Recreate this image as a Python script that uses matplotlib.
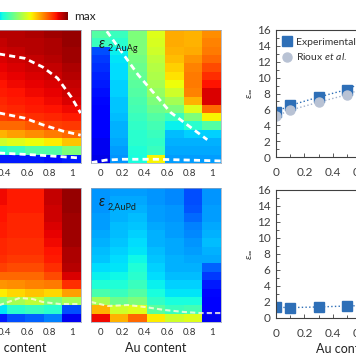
import numpy as np
import matplotlib
matplotlib.use("Agg")
import matplotlib.pyplot as plt
from matplotlib.ticker import MultipleLocator

plt.rcParams['font.family'] = ['Lato', 'DejaVu Sans']
plt.rcParams['mathtext.fontset'] = 'custom'
plt.rcParams['mathtext.rm'] = 'Lato'
plt.rcParams['mathtext.it'] = 'Lato:italic'
plt.rcParams['mathtext.fallback'] = 'stixsans'

# ---- data ----
au_ticks = [0, 0.2, 0.4, 0.6, 0.8, 1]
n_cols = 7
n_rows = 16

# heatmap columns, colour level 0..1 (jet), rows listed top -> bottom
eps1_auag = [
    [0.95, 0.94, 0.93, 0.92, 0.91, 0.90, 0.89, 0.88, 0.87, 0.86, 0.84, 0.80, 0.72, 0.60, 0.40, 0.15],
    [0.95, 0.94, 0.93, 0.92, 0.91, 0.90, 0.89, 0.88, 0.87, 0.86, 0.84, 0.80, 0.72, 0.60, 0.40, 0.15],
    [0.95, 0.94, 0.93, 0.92, 0.91, 0.90, 0.89, 0.88, 0.87, 0.86, 0.84, 0.80, 0.72, 0.60, 0.40, 0.15],
    [0.95, 0.95, 0.94, 0.93, 0.92, 0.91, 0.90, 0.89, 0.88, 0.87, 0.85, 0.80, 0.74, 0.62, 0.42, 0.15],
    [0.96, 0.95, 0.95, 0.94, 0.93, 0.92, 0.91, 0.90, 0.89, 0.88, 0.86, 0.82, 0.76, 0.64, 0.45, 0.15],
    [0.97, 0.96, 0.96, 0.95, 0.94, 0.93, 0.92, 0.91, 0.90, 0.89, 0.87, 0.84, 0.78, 0.66, 0.45, 0.14],
    [0.98, 0.98, 0.97, 0.97, 0.96, 0.95, 0.94, 0.93, 0.92, 0.90, 0.88, 0.85, 0.80, 0.70, 0.50, 0.15],
]
eps2_auag = [
    [0.45, 0.42, 0.20, 0.18, 0.17, 0.16, 0.15, 0.14, 0.13, 0.12, 0.12, 0.11, 0.11, 0.10, 0.10, 0.09],
    [0.42, 0.40, 0.36, 0.35, 0.34, 0.34, 0.33, 0.33, 0.32, 0.32, 0.31, 0.30, 0.30, 0.29, 0.28, 0.27],
    [0.50, 0.50, 0.50, 0.49, 0.48, 0.47, 0.46, 0.45, 0.44, 0.43, 0.42, 0.41, 0.40, 0.40, 0.39, 0.38],
    [0.62, 0.61, 0.60, 0.58, 0.57, 0.56, 0.55, 0.53, 0.50, 0.48, 0.45, 0.43, 0.42, 0.41, 0.42, 0.65],
    [0.73, 0.73, 0.72, 0.71, 0.69, 0.67, 0.64, 0.60, 0.55, 0.50, 0.42, 0.36, 0.31, 0.30, 0.29, 0.28],
    [0.72, 0.72, 0.73, 0.75, 0.77, 0.78, 0.78, 0.77, 0.72, 0.62, 0.50, 0.40, 0.33, 0.30, 0.29, 0.28],
    [0.76, 0.77, 0.78, 0.80, 0.83, 0.86, 0.89, 0.92, 0.92, 0.80, 0.65, 0.45, 0.33, 0.30, 0.29, 0.28],
]
eps1_aupd = [
    [0.90, 0.90, 0.89, 0.89, 0.88, 0.88, 0.87, 0.87, 0.86, 0.84, 0.80, 0.75, 0.66, 0.50, 0.35, 0.15],
    [0.90, 0.90, 0.89, 0.89, 0.88, 0.88, 0.87, 0.87, 0.86, 0.84, 0.80, 0.75, 0.66, 0.50, 0.35, 0.15],
    [0.90, 0.90, 0.89, 0.89, 0.88, 0.88, 0.87, 0.87, 0.86, 0.84, 0.80, 0.75, 0.66, 0.50, 0.35, 0.15],
    [0.88, 0.88, 0.88, 0.87, 0.87, 0.87, 0.86, 0.86, 0.85, 0.83, 0.80, 0.76, 0.68, 0.55, 0.40, 0.20],
    [0.88, 0.88, 0.88, 0.87, 0.87, 0.87, 0.86, 0.86, 0.85, 0.83, 0.80, 0.77, 0.70, 0.58, 0.42, 0.22],
    [0.94, 0.94, 0.93, 0.93, 0.92, 0.91, 0.90, 0.89, 0.88, 0.86, 0.83, 0.78, 0.68, 0.50, 0.40, 0.25],
    [0.98, 0.98, 0.98, 0.97, 0.97, 0.97, 0.97, 0.96, 0.96, 0.95, 0.92, 0.86, 0.74, 0.55, 0.20, 0.10],
]
eps2_aupd = [
    [0.27, 0.27, 0.27, 0.28, 0.28, 0.29, 0.30, 0.31, 0.32, 0.34, 0.36, 0.39, 0.44, 0.55, 0.72, 0.90],
    [0.28, 0.29, 0.30, 0.30, 0.31, 0.31, 0.32, 0.33, 0.34, 0.35, 0.37, 0.39, 0.42, 0.48, 0.60, 0.72],
    [0.28, 0.29, 0.30, 0.31, 0.32, 0.33, 0.34, 0.35, 0.37, 0.39, 0.40, 0.42, 0.45, 0.50, 0.62, 0.80],
    [0.27, 0.27, 0.28, 0.28, 0.29, 0.30, 0.30, 0.31, 0.32, 0.33, 0.34, 0.36, 0.38, 0.41, 0.46, 0.66],
    [0.26, 0.26, 0.27, 0.27, 0.28, 0.28, 0.29, 0.29, 0.30, 0.30, 0.31, 0.33, 0.35, 0.38, 0.42, 0.60],
    [0.20, 0.20, 0.21, 0.23, 0.25, 0.26, 0.27, 0.28, 0.29, 0.30, 0.31, 0.33, 0.35, 0.38, 0.43, 0.62],
    [0.27, 0.27, 0.28, 0.28, 0.29, 0.30, 0.31, 0.30, 0.29, 0.22, 0.18, 0.15, 0.13, 0.12, 0.11, 0.10],
]

# dashed guide curves (x = Au content, y = row units from bottom)
auag1_upper_x = [0.20, 0.354, 0.577, 0.739, 0.873, 0.998, 1.08]
auag1_upper_y = [13.4, 13.1, 12.6, 11.55, 10.2, 7.9, 6.0]
auag1_mid_x = [0.20, 0.354, 0.577, 0.739, 0.918, 1.08]
auag1_mid_y = [6.3, 6.0, 5.4, 4.6, 3.85, 3.35]
auag1_low_x = [0.20, 0.354, 0.70, 1.08]
auag1_low_y = [1.3, 1.2, 0.95, 0.6]
auag2_diag_x = [0.0, 0.05, 0.34, 0.63, 0.96]
auag2_diag_y = [16.8, 16.0, 10.6, 6.1, 2.8]
auag2_low_x = [-0.08, 0.05, 0.2, 0.5, 0.8, 1.08]
auag2_low_y = [0.05, 0.35, 0.45, 0.45, 0.35, 0.25]
aupd1_x = [0.20, 0.354, 0.533, 0.649, 0.739, 0.891, 1.08]
aupd1_y = [1.9, 2.03, 2.87, 2.75, 2.39, 2.15, 2.15]
aupd2_x = [-0.083, 0.069, 0.248, 0.40, 0.579, 0.758, 0.901, 1.08]
aupd2_y = [2.39, 1.91, 2.03, 1.79, 1.43, 1.19, 1.07, 1.07]

# eps_inf vs Au content
au_exp = [0, 0.1, 0.3, 0.5, 0.7]
eps_inf_auag_exp = [5.7, 6.5, 7.55, 8.5, 10.2]
eps_inf_auag_rioux = [5.15, 5.9, 6.9, 7.85, 9.3]
eps_inf_aupd_exp = [1.35, 1.3, 1.38, 1.5, 1.6]

W, H = 356, 364
fig = plt.figure(figsize=(W / 100, H / 100), dpi=100)


def px_axes(left, top, right, bottom):
    return fig.add_axes([left / W, 1 - bottom / H, (right - left) / W, (bottom - top) / H])


x_edges = np.linspace(-1 / 12, 13 / 12, n_cols + 1)
y_edges = np.arange(n_rows + 1)
dash_kw = dict(color='white', lw=2, dashes=(2.2, 1.5))
soft_kw = dict(color='#fffbe0', lw=1.5, alpha=0.8, dashes=(2.5, 1.5))


def heatmap(ax, cols, label=None):
    z = np.array(cols).T[::-1]
    ax.pcolormesh(x_edges, y_edges, z, cmap='jet', vmin=0, vmax=1, shading='flat')
    ax.set_xlim(x_edges[0], x_edges[-1])
    ax.set_ylim(0, n_rows)
    ax.set_xticks(au_ticks)
    ax.set_xticklabels(['0', '0.2', '0.4', '0.6', '0.8', '1'])
    ax.set_yticks([])
    ax.tick_params(axis='x', length=0, pad=4, labelsize=7, labelcolor='#333333')
    for s in ax.spines.values():
        s.set_linewidth(0.5)
        s.set_color('#9aa6b8')
    if label:
        ax.text(0.05, 0.95, r'$\varepsilon$', transform=ax.transAxes, fontsize=10.5,
                color='#1a1a1a', va='top', ha='left')
        ax.text(0.13, 0.86, label, transform=ax.transAxes, fontsize=6.5,
                color='#1a1a1a', va='center', ha='left')


ax1 = px_axes(-49, 30, 81, 163)
heatmap(ax1, eps1_auag)
ax1.plot(auag1_upper_x, auag1_upper_y, **dash_kw)
ax1.plot(auag1_mid_x, auag1_mid_y, **dash_kw)
ax1.plot(auag1_low_x, auag1_low_y, **dash_kw)

ax2 = px_axes(91, 30, 221, 163)
heatmap(ax2, eps2_auag, '2 AuAg')
ax2.plot(auag2_diag_x, auag2_diag_y, **dash_kw)
ax2.plot(auag2_low_x, auag2_low_y, **dash_kw)

ax3 = px_axes(-49, 188, 81, 322)
heatmap(ax3, eps1_aupd)
ax3.plot(aupd1_x, aupd1_y, **soft_kw)
ax3.set_xlabel('Au content', fontsize=9, labelpad=4, color='#222222')

ax4 = px_axes(91, 188, 221, 322)
heatmap(ax4, eps2_aupd, '2,AuPd')
ax4.plot(aupd2_x, aupd2_y, **soft_kw)
ax4.set_xlabel('Au content', fontsize=9, labelpad=4, color='#222222')

# colour bar
cax = px_axes(-37, 12, 68, 20)
cax.imshow(np.linspace(0, 1, 256)[None, :], aspect='auto', cmap='jet',
           extent=[0, 1, 0, 1])
cax.axis('off')
fig.text(74 / W, 1 - 16 / H, 'max', fontsize=8.5, va='center', ha='left', color='#222222')


def eps_axes(ax):
    ax.set_xlim(0, 1)
    ax.set_ylim(0, 16)
    ax.xaxis.set_major_locator(MultipleLocator(0.2))
    ax.xaxis.set_minor_locator(MultipleLocator(0.1))
    ax.yaxis.set_major_locator(MultipleLocator(2))
    ax.yaxis.set_minor_locator(MultipleLocator(1))
    ax.set_xticks(au_ticks)
    ax.set_xticklabels(['0', '0.2', '0.4', '0.6', '0.8', '1'])
    ax.tick_params(which='both', direction='in', colors='#404040', labelsize=8.5,
                   width=0.6, top=False, right=False)
    ax.tick_params(which='major', length=3)
    ax.tick_params(which='minor', length=2)
    ax.tick_params(axis='x', pad=7)
    ax.tick_params(axis='y', pad=4)
    for s in ax.spines.values():
        s.set_linewidth(0.8)
        s.set_color('#404040')
    ax.set_ylabel(r'$\varepsilon_\infty$', fontsize=7.5, color='#404040', labelpad=2)


blue = '#2e6fb7'
grey = '#b8c2d4'

ax5 = px_axes(276, 30, 418, 157)
ax5.plot(au_exp, eps_inf_auag_exp, ls=':', color=blue, lw=1, marker='s', ms=6.5,
         mfc=blue, mec=blue, label='Experimental')
ax5.plot(au_exp, eps_inf_auag_rioux, ls=':', color='#9fb0cc', lw=1, marker='o', ms=6.5,
         mfc=grey, mec=grey, label=r'Rioux $\mathit{et\ al.}$')
eps_axes(ax5)
ax5.legend(loc='upper left', bbox_to_anchor=(0.0, 1.0), frameon=False, fontsize=7.5,
           handlelength=0.8, handletextpad=0.4, borderaxespad=0.3, labelspacing=0.45,
           labelcolor='#333333')
for h in ax5.get_legend().legend_handles:
    h.set_linestyle('none')

ax6 = px_axes(276, 190, 418, 318)
ax6.plot(au_exp, eps_inf_aupd_exp, ls=':', color=blue, lw=1, marker='s', ms=6.5,
         mfc=blue, mec=blue)
eps_axes(ax6)
ax6.set_xlabel('Au content', fontsize=9, color='#222222', labelpad=3)

fig.savefig('out.png', dpi=100)
